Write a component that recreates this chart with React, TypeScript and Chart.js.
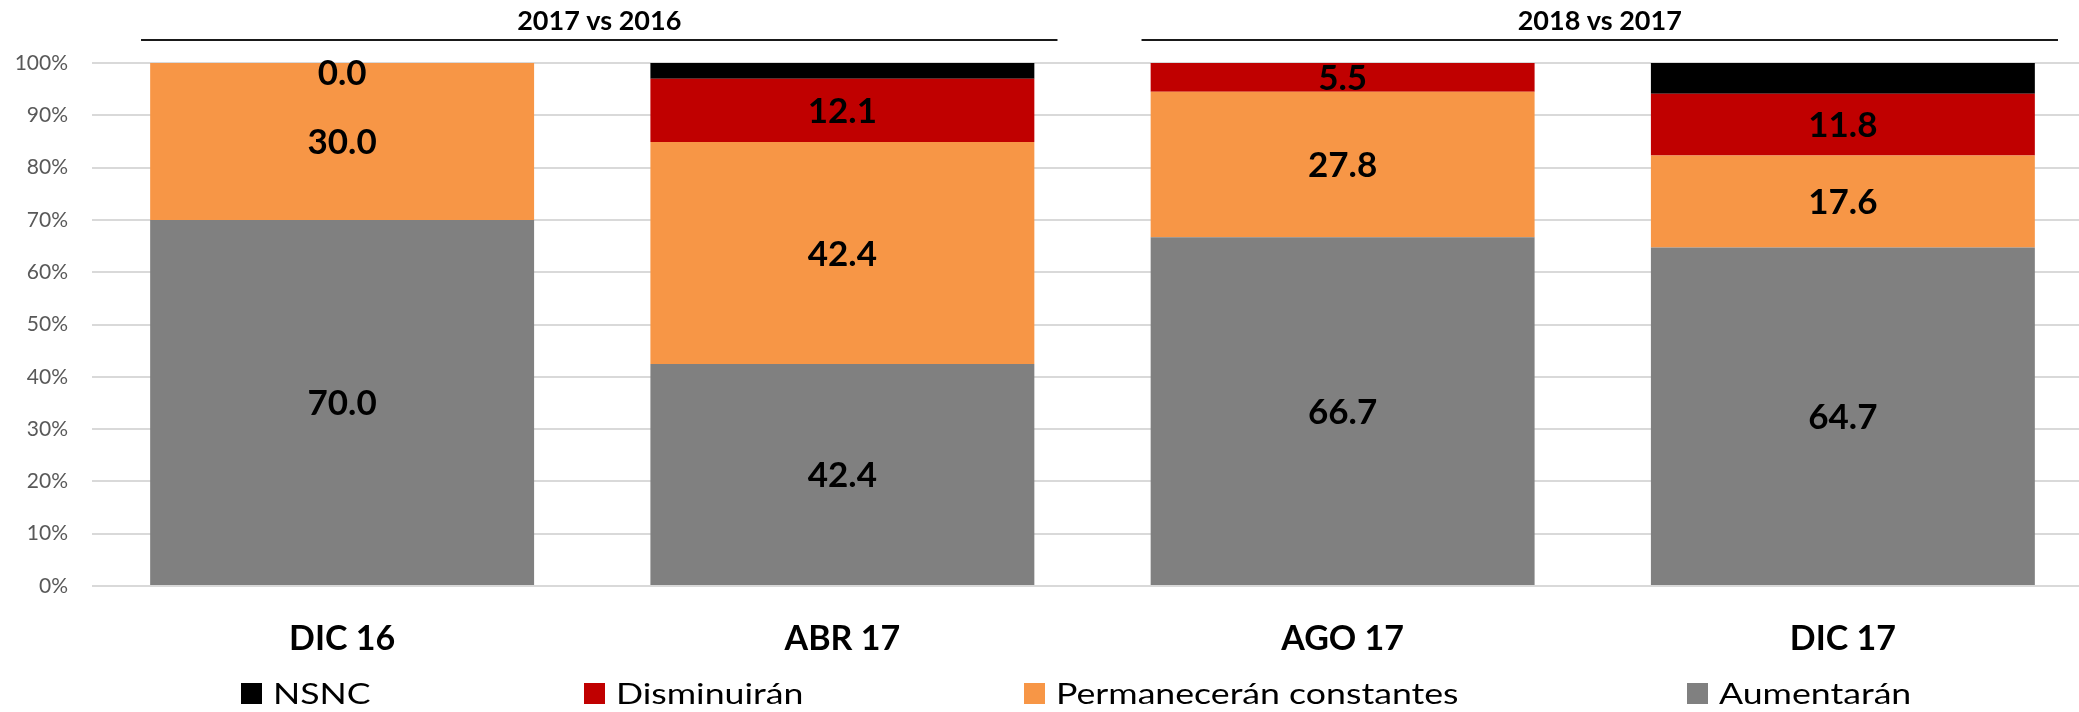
import { useEffect, useRef } from "react";
import { Chart, registerables } from "chart.js";
import type { Plugin } from "chart.js";

Chart.register(...registerables);

const CATEGORIES = ["DIC 16", "ABR 17", "AGO 17", "DIC 17"];
const AUMENTARAN = [70.0, 42.4, 66.7, 64.7];
const PERMANECERAN = [30.0, 42.4, 27.8, 17.6];
const DISMINUIRAN = [0.0, 12.1, 5.5, 11.8];
const NSNC = [0.0, 3.0, 0.0, 5.9];
const Y_TICKS = [0, 10, 20, 30, 40, 50, 60, 70, 80, 90, 100];
const GROUP_LABELS = ["2017 vs 2016", "2018 vs 2017"];
const GROUP_RANGES = [
  [0, 1],
  [2, 3],
];

const COLORS = {
  aumentaran: "#808080",
  permaneceran: "#F79646",
  disminuiran: "#C00000",
  nsnc: "#000000",
};

// legend order as in the original (left to right)
const LEGEND = [
  { label: "NSNC", color: COLORS.nsnc },
  { label: "Disminuirán", color: COLORS.disminuiran },
  { label: "Permanecerán constantes", color: COLORS.permaneceran },
  { label: "Aumentarán", color: COLORS.aumentaran },
];
const LEGEND_X = [241, 584, 1024, 1687];

const FONT = "Lato, 'Noto Sans', sans-serif";

const totals = CATEGORIES.map(
  (_, i) => AUMENTARAN[i] + PERMANECERAN[i] + DISMINUIRAN[i] + NSNC[i],
);
const pct = (arr: number[]) => arr.map((v, i) => (v / totals[i]) * 100);

const valueLabels: Plugin<"bar"> = {
  id: "valueLabels",
  afterDatasetsDraw(chart) {
    const { ctx, chartArea } = chart;
    const size = 35;
    ctx.save();
    ctx.font = `bold ${size}px ${FONT}`;
    ctx.fillStyle = "#000";
    ctx.textAlign = "center";
    ctx.textBaseline = "alphabetic";
    chart.data.datasets.forEach((ds: any, di) => {
      if (ds.noLabels) return;
      const meta = chart.getDatasetMeta(di);
      meta.data.forEach((el: any, i) => {
        const { x, y, base } = el.getProps(["x", "y", "base"], true);
        let cy = (y + base) / 2;
        cy = Math.max(cy, chartArea.top + 9);
        ctx.fillText(ds.raw[i].toFixed(1), x, cy + size * 0.358);
      });
    });
    ctx.restore();
  },
};

const groupHeaders: Plugin<"bar"> = {
  id: "groupHeaders",
  afterDraw(chart) {
    const { ctx } = chart;
    const xs = chart.scales.x;
    const cat = xs.getPixelForValue(1) - xs.getPixelForValue(0);
    ctx.save();
    GROUP_LABELS.forEach((label, g) => {
      const [a, b] = GROUP_RANGES[g];
      const x1 = xs.getPixelForValue(a) - 0.402 * cat;
      const x2 = xs.getPixelForValue(b) + 0.43 * cat;
      ctx.strokeStyle = "#1a1a1a";
      ctx.lineWidth = 2;
      ctx.beginPath();
      ctx.moveTo(x1, 40);
      ctx.lineTo(x2, 40);
      ctx.stroke();
      ctx.font = `bold 27px ${FONT}`;
      ctx.fillStyle = "#000";
      ctx.textAlign = "center";
      ctx.textBaseline = "alphabetic";
      ctx.fillText(label, (x1 + x2) / 2, 29.5);
    });
    ctx.restore();
  },
};

const bottomLegend: Plugin<"bar"> = {
  id: "bottomLegend",
  afterDraw(chart) {
    const { ctx } = chart;
    ctx.save();
    LEGEND.forEach((item, i) => {
      const x = LEGEND_X[i];
      ctx.fillStyle = item.color;
      ctx.fillRect(x, 683, 21, 21);
      ctx.save();
      ctx.translate(x + 32, 704);
      ctx.scale(1.23, 1);
      ctx.font = `29px ${FONT}`;
      ctx.fillStyle = "#000";
      ctx.textAlign = "left";
      ctx.textBaseline = "alphabetic";
      ctx.fillText(item.label, 0, 0);
      ctx.restore();
    });
    ctx.restore();
  },
};

export default function App() {
  const ref = useRef<HTMLCanvasElement | null>(null);
  const chartRef = useRef<Chart | null>(null);

  useEffect(() => {
    if (!ref.current) return;
    chartRef.current?.destroy();
    chartRef.current = new Chart(ref.current, {
      type: "bar",
      data: {
        labels: CATEGORIES,
        datasets: [
          { label: "Aumentarán", data: pct(AUMENTARAN), raw: AUMENTARAN, backgroundColor: COLORS.aumentaran },
          { label: "Permanecerán constantes", data: pct(PERMANECERAN), raw: PERMANECERAN, backgroundColor: COLORS.permaneceran },
          { label: "Disminuirán", data: pct(DISMINUIRAN), raw: DISMINUIRAN, backgroundColor: COLORS.disminuiran },
          { label: "NSNC", data: pct(NSNC), raw: NSNC, noLabels: true, backgroundColor: COLORS.nsnc },
        ] as any,
      },
      options: {
        animation: false,
        responsive: true,
        maintainAspectRatio: false,
        layout: { padding: { top: 63, left: 0, right: 0, bottom: 0 } },
        datasets: {
          bar: { categoryPercentage: 1, barPercentage: 0.7675, borderWidth: 0 },
        },
        plugins: {
          legend: { display: false },
          tooltip: { enabled: false },
        },
        scales: {
          x: {
            stacked: true,
            grid: { display: false },
            border: { display: false },
            ticks: {
              padding: 25,
              color: "#000",
              font: { family: FONT, size: 34, weight: "bold" },
            },
            afterFit: (s) => {
              s.height = 126;
            },
          },
          y: {
            stacked: true,
            min: 0,
            max: 100,
            grid: { color: "#d9d9d9", lineWidth: 2, drawTicks: false },
            border: { display: false },
            afterBuildTicks: (s) => {
              s.ticks = Y_TICKS.map((v) => ({ value: v }));
            },
            ticks: {
              padding: 24,
              color: "#595959",
              font: { family: FONT, size: 21 },
              callback: (v) => `${v}%`,
            },
            afterFit: (s) => {
              s.width = 92;
            },
          },
        },
      },
      plugins: [valueLabels, groupHeaders, bottomLegend],
    });
    return () => {
      chartRef.current?.destroy();
      chartRef.current = null;
    };
  }, []);

  return (
    <div
      style={{
        position: "absolute",
        left: 0,
        top: 0,
        width: 2079,
        height: 712,
        overflow: "hidden",
        background: "#fff",
      }}
    >
      <div style={{ position: "relative", width: 2093, height: 712 }}>
        <canvas ref={ref} aria-label="Expectativas 2017 vs 2016 y 2018 vs 2017" />
      </div>
    </div>
  );
}
